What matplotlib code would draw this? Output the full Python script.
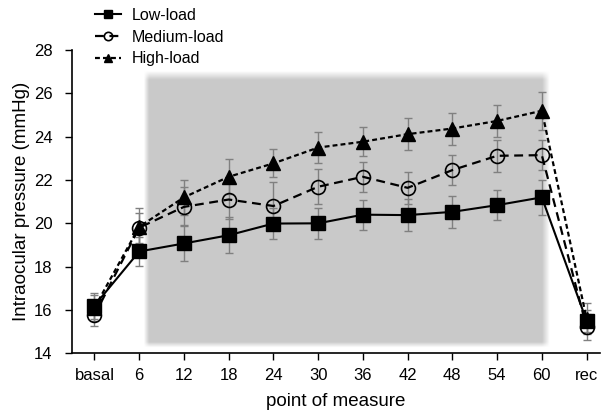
import numpy as np
import matplotlib
matplotlib.use("Agg")
from matplotlib import pyplot as plt

plt.rcParams['font.family'] = ['Liberation Sans', 'DejaVu Sans']

labels = ['basal', '6', '12', '18', '24', '30', '36', '42', '48', '54', '60', 'rec']
low = [16.2, 18.7, 19.07, 19.45, 19.99, 20.0, 20.4, 20.38, 20.53, 20.84, 21.2, 15.5]
low_err = [0.6, 0.65, 0.83, 0.83, 0.73, 0.72, 0.7, 0.73, 0.75, 0.7, 0.8, 0.5]
med = [15.75, 19.8, 20.76, 21.1, 20.8, 21.69, 22.15, 21.64, 22.46, 23.12, 23.15, 15.2]
med_err = [0.5, 0.7, 0.9, 0.9, 1.1, 0.8, 0.7, 0.73, 0.68, 0.73, 0.7, 0.6]
high = [16.1, 19.84, 21.2, 22.15, 22.77, 23.5, 23.77, 24.12, 24.38, 24.73, 25.2, 15.6]
high_err = [0.6, 0.85, 0.8, 0.8, 0.65, 0.7, 0.67, 0.75, 0.74, 0.75, 0.87, 0.7]

x = np.arange(len(labels))

fig = plt.figure(figsize=(6.11, 4.18), dpi=100)
ax = fig.add_axes([0.118, 0.155, 0.864, 0.725])

# blurred grey block for the load period
x0, x1, y0, y1 = 1.16, 10.1, 14.37, 26.8
gx = np.linspace(-0.5, 11.3, 600)
gy = np.linspace(14, 28, 400)
X, Y = np.meshgrid(gx, gy)
b = 0.12
ramp = lambda d, w: np.clip(d / w + 0.5, 0, 1)
a = ramp(X - x0, b) * ramp(x1 - X, b * 1.4) * ramp(Y - y0, 0.25) * ramp(y1 - Y, 0.4)
img = np.zeros(X.shape + (4,))
img[..., :3] = 0.79
img[..., 3] = a
ax.imshow(img, extent=(-0.5, 11.3, 14, 28), origin='lower', aspect='auto',
          interpolation='bilinear', zorder=0)

ekw = dict(ecolor='#808080', elinewidth=1.0, capsize=3, capthick=1.0)
ax.errorbar(x, high, yerr=high_err, fmt='none', zorder=2, **ekw)
ax.errorbar(x, med, yerr=med_err, fmt='none', zorder=2, **ekw)
ax.errorbar(x, low, yerr=low_err, fmt='none', zorder=2, **ekw)

l1, = ax.plot(x, low, '-', color='black', lw=1.5, marker='s', ms=10.5, zorder=3)
l2, = ax.plot(x, med, color='black', lw=1.6, dashes=(4, 2.5), marker='o', ms=10,
              mfc='none', mew=1.2, zorder=3)
l3, = ax.plot(x, high, color='black', lw=1.6, dashes=(2.2, 1.4), marker='^', ms=10.5, zorder=3)

ax.set_xlim(-0.5, 11.3)
ax.set_ylim(14, 28)
ax.set_yticks(np.arange(14, 29, 2))
ax.set_xticks(x)
ax.set_xticklabels(labels)
ax.tick_params(labelsize=12, length=5, width=1, direction='out', colors='black')
ax.tick_params(axis='y', pad=9)
ax.tick_params(axis='x', pad=6)
ax.spines['top'].set_visible(False)
ax.spines['right'].set_visible(False)
ax.spines['left'].set_linewidth(1.2)
ax.spines['bottom'].set_linewidth(1.2)
ax.set_ylabel('Intraocular pressure (mmHg)', fontsize=13.5, labelpad=3)
ax.set_xlabel('point of measure', fontsize=13.5, labelpad=7)

leg = fig.legend([l1, l2, l3], ['Low-load', 'Medium-load', 'High-load'],
                 loc='upper left', bbox_to_anchor=(0.138, 1.008), frameon=False,
                 fontsize=11.5, markerscale=0.6, handlelength=1.6, handletextpad=0.7,
                 labelspacing=0.42, borderpad=0.2)

fig.savefig('out.png', dpi=100)
